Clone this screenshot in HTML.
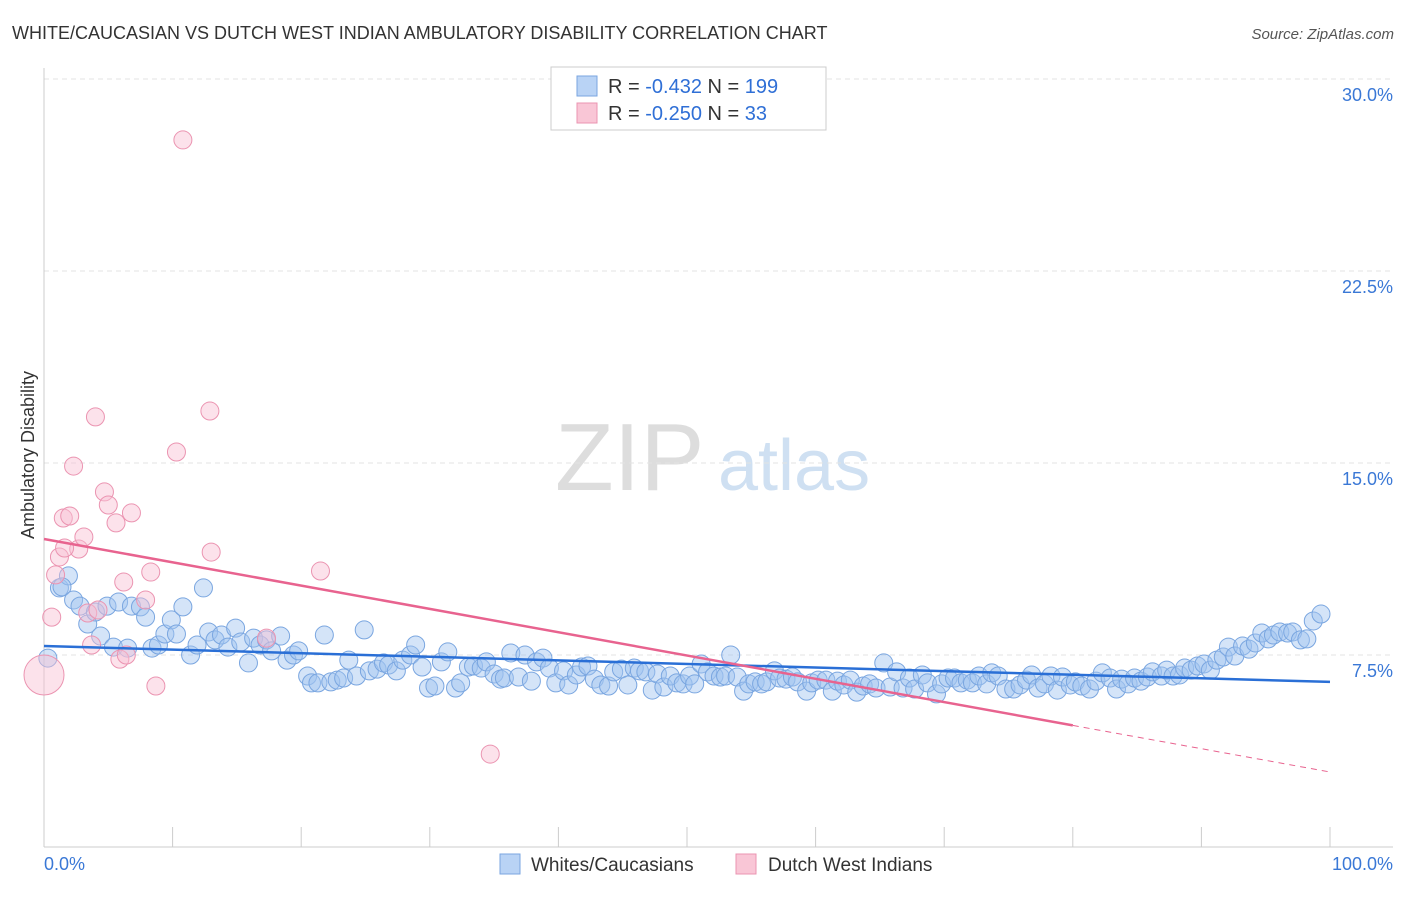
<!DOCTYPE html>
<html><head><meta charset="utf-8"><style>
body{margin:0;background:#fff;font-family:"Liberation Sans",sans-serif;}
svg text{font-family:"Liberation Sans",sans-serif;}
</style></head><body>
<svg id="chart" width="1406" height="892" xmlns="http://www.w3.org/2000/svg">
<text x="12" y="39" font-size="18" fill="#333">WHITE/CAUCASIAN VS DUTCH WEST INDIAN AMBULATORY DISABILITY CORRELATION CHART</text>
<text x="1394" y="39" font-size="15" fill="#555" text-anchor="end" font-style="italic">Source: ZipAtlas.com</text>
<g><text x="555" y="490" font-size="96" fill="#ddd" font-family="Liberation Serif">ZIP</text><text x="718" y="490" font-size="72" fill="#cfe0f2">atlas</text></g>
<g id="grid"></g>
<g id="axes"></g>
<g id="blue"></g>
<g id="pink"></g>
<g id="trends"></g>
<text transform="translate(34,455) rotate(-90)" font-size="18" fill="#333" text-anchor="middle">Ambulatory Disability</text>
<g>
<rect x="551" y="67" width="275" height="63" fill="#fff" stroke="#ccc"/>
<rect x="577" y="76" width="20" height="20" fill="#b9d3f5" stroke="#7aa6e0"/>
<rect x="577" y="103" width="20" height="20" fill="#f9c6d6" stroke="#eb94b1"/>
<text x="608" y="93" font-size="20" fill="#333">R = <tspan fill="#2f6fd6">-0.432</tspan>   N = <tspan fill="#2f6fd6">199</tspan></text>
<text x="608" y="120" font-size="20" fill="#333">R = <tspan fill="#2f6fd6">-0.250</tspan>   N =   <tspan fill="#2f6fd6">33</tspan></text>
</g>
<g>
<rect x="500" y="854" width="20" height="20" fill="#b9d3f5" stroke="#7aa6e0"/>
<text x="531" y="871" font-size="19" fill="#333">Whites/Caucasians</text>
<rect x="736" y="854" width="20" height="20" fill="#f9c6d6" stroke="#eb94b1"/>
<text x="768" y="871" font-size="19" fill="#333">Dutch West Indians</text>
</g>
</svg>
<script>
const yTicks=[7.5,15,22.5,30];
const yTickLabels=["7.5%","15.0%","22.5%","30.0%"];
const xTicks=[0,10,20,30,40,50,60,70,80,90,100];
const blueX=[0.3,1.2,1.9,1.4,2.3,2.8,3.4,4.0,4.4,4.9,5.4,5.8,6.5,6.8,7.5,7.9,8.4,8.9,9.4,9.9,10.3,10.8,11.4,11.9,12.4,12.8,13.3,13.8,14.3,14.9,15.3,15.9,16.3,16.8,17.3,17.7,18.4,18.9,19.4,19.8,20.5,20.8,21.3,21.8,22.3,22.8,23.3,23.7,24.3,24.9,25.3,25.9,26.4,26.8,27.4,27.9,28.5,28.9,29.4,29.9,30.4,30.9,31.4,32.0,32.4,33.0,33.4,34.0,34.4,35.0,35.5,35.8,36.3,36.9,37.4,37.9,38.3,38.8,39.3,39.8,40.4,40.8,41.4,41.8,42.3,42.8,43.3,43.9,44.3,44.9,45.4,45.9,46.3,46.8,47.3,47.7,48.2,48.7,49.2,49.7,50.2,50.6,51.1,51.6,52.1,52.6,53.0,53.4,53.9,54.4,54.8,55.3,55.8,56.2,56.8,57.2,57.7,58.2,58.6,59.3,59.7,60.2,60.8,61.3,61.7,62.2,62.7,63.2,63.7,64.2,64.7,65.3,65.8,66.3,66.8,67.3,67.7,68.3,68.7,69.4,69.8,70.3,70.8,71.3,71.8,72.2,72.7,73.3,73.7,74.2,74.8,75.4,75.9,76.4,76.8,77.3,77.8,78.3,78.8,79.2,79.8,80.2,80.7,81.3,81.8,82.3,82.9,83.4,83.8,84.3,84.8,85.3,85.8,86.2,86.9,87.3,87.8,88.3,88.7,89.2,89.7,90.2,90.7,91.2,91.7,92.1,92.6,93.2,93.7,94.2,94.7,95.2,95.6,96.1,96.7,97.1,97.7,98.2,98.7,99.3];
const blueY=[7.38,10.12,10.59,10.16,9.65,9.41,8.71,9.18,8.24,9.41,7.81,9.57,7.77,9.41,9.38,8.98,7.77,7.89,8.32,8.87,8.32,9.38,7.5,7.89,10.12,8.4,8.09,8.28,7.81,8.55,8.01,7.19,8.16,7.89,8.09,7.66,8.24,7.3,7.5,7.66,6.68,6.41,6.41,8.28,6.45,6.52,6.6,7.3,6.68,8.48,6.88,6.95,7.19,7.11,6.88,7.3,7.5,7.89,7.03,6.21,6.29,7.23,7.62,6.21,6.41,7.03,7.07,6.99,7.23,6.76,6.56,6.6,7.58,6.64,7.5,6.48,7.23,7.38,6.99,6.41,6.88,6.33,6.72,7.03,7.07,6.56,6.33,6.29,6.84,6.95,6.33,6.99,6.88,6.84,6.13,6.76,6.25,6.68,6.41,6.37,6.68,6.37,7.15,6.84,6.68,6.64,6.68,7.5,6.64,6.09,6.37,6.45,6.37,6.45,6.88,6.6,6.56,6.64,6.45,6.09,6.41,6.52,6.52,6.09,6.48,6.33,6.52,6.05,6.29,6.37,6.21,7.19,6.25,6.84,6.21,6.6,6.17,6.72,6.41,5.98,6.37,6.6,6.6,6.41,6.52,6.41,6.68,6.37,6.8,6.68,6.17,6.17,6.33,6.52,6.72,6.21,6.37,6.68,6.13,6.64,6.33,6.45,6.29,6.17,6.48,6.8,6.6,6.17,6.56,6.37,6.6,6.48,6.64,6.84,6.68,6.91,6.68,6.72,6.99,6.91,7.07,7.15,6.91,7.3,7.42,7.81,7.46,7.85,7.73,7.97,8.36,8.13,8.28,8.4,8.36,8.4,8.09,8.13,8.83,9.1];
const pinkX=[0,0.6,0.9,1.2,1.5,2.0,2.3,2.7,3.1,3.4,3.7,4.0,4.2,4.7,5.0,5.6,5.9,6.2,6.4,6.8,7.9,8.3,8.7,10.3,10.8,12.9,13.0,17.3,21.5,34.7,1.6];
const pinkY=[6.72,8.98,10.63,11.33,12.85,12.93,14.88,11.64,12.11,9.14,7.89,16.8,9.26,13.87,13.36,12.66,7.34,10.35,7.5,13.05,9.65,10.74,6.29,15.43,27.62,17.03,11.52,8.16,10.78,3.63,11.68];
const pinkBig=[0];
const blueTrend=[7.85,6.45];
const pinkTrend=[12.03,2.93];
const pinkSolidEnd=80;
const X=v=>44+v*12.86, Y=v=>847-v*25.6;
const NS="http://www.w3.org/2000/svg";
function mk(p,t,a){const e=document.createElementNS(NS,t);for(const k in a)e.setAttribute(k,a[k]);p.appendChild(e);return e;}
const grid=document.getElementById('grid'),axes=document.getElementById('axes');
yTicks.forEach((t,i)=>{
 const l=mk(grid,'line',{x1:44,x2:1393,y1:Y(t),y2:Y(t),stroke:'#e3e3e3','stroke-dasharray':'5,4'});
 
 
 const tx=mk(axes,'text',{x:1393,y:Y(t)+22,'font-size':18,fill:'#3a78d6','text-anchor':'end'});tx.textContent=yTickLabels[i];
 
 
});
mk(axes,'line',{x1:44,x2:44,y1:68,y2:847,stroke:'#ccc'});
mk(axes,'line',{x1:44,x2:1393,y1:847,y2:847,stroke:'#ccc'});
xTicks.forEach(t=>{const l=mk(axes,'line',{x1:X(t),x2:X(t),y1:827,y2:847,stroke:'#ccc'});
 
 });
let a=mk(axes,'text',{x:44,y:870,'font-size':18,fill:'#3a78d6'});a.textContent='0.0%';

a=mk(axes,'text',{x:1393,y:870,'font-size':18,fill:'#3a78d6','text-anchor':'end'});a.textContent='100.0%';

const bg=document.getElementById('blue');
blueX.forEach((x,i)=>{const c=mk(bg,'circle',{cx:X(x),cy:Y(blueY[i]),r:9,fill:'rgba(160,196,240,0.45)',stroke:'#7aa6e0','stroke-width':1});
 
 });
const pg=document.getElementById('pink');
pinkX.forEach((x,i)=>{const c=mk(pg,'circle',{cx:X(x),cy:Y(pinkY[i]),r:pinkBig.includes(i)?20:9,fill:'rgba(248,190,210,0.45)',stroke:'#eb94b1','stroke-width':1});
 
 });
const tg=document.getElementById('trends');
let l=mk(tg,'line',{x1:X(0),x2:X(100),y1:Y(blueTrend[0]),y2:Y(blueTrend[1]),stroke:'#2a6fd6','stroke-width':2.5});

const pAt=x=>pinkTrend[0]+(pinkTrend[1]-pinkTrend[0])*x/100;
l=mk(tg,'line',{x1:X(0),x2:X(pinkSolidEnd),y1:Y(pinkTrend[0]),y2:Y(pAt(pinkSolidEnd)),stroke:'#e8638f','stroke-width':2.5});

l=mk(tg,'line',{x1:X(pinkSolidEnd),x2:X(100),y1:Y(pAt(pinkSolidEnd)),y2:Y(pinkTrend[1]),stroke:'#e8638f','stroke-width':1,'stroke-dasharray':'6,5'});

</script>
</body></html>
